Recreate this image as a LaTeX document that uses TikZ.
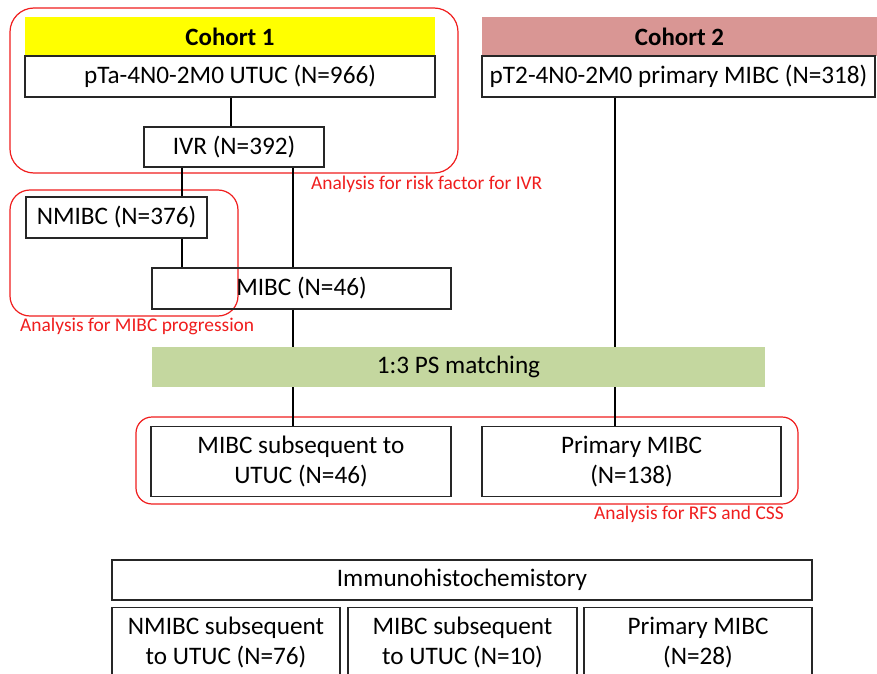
\documentclass[tikz,border=0pt]{standalone}
\usepackage{fontspec}
\setmainfont{Carlito}
\definecolor{cohA}{HTML}{FFFF00}
\definecolor{cohB}{HTML}{D99694}
\definecolor{psgreen}{HTML}{C4D79F}
\definecolor{anred}{HTML}{F01E1E}
\tikzset{
  box/.style={draw=black!85, line width=1.2bp, inner sep=0pt, align=center, font=\fontsize{25.3}{29.5}\selectfont},
  bar/.style={inner sep=0pt, align=center, font=\fontsize{25}{29}\selectfont\bfseries},
  conn/.style={draw=black, line width=2.2bp},
  redbox/.style={draw=anred, line width=1.2bp},
  redlabel/.style={text=anred, inner sep=0pt, font=\fontsize{19.5}{22}\selectfont}
}
\begin{document}
\begin{tikzpicture}[x=1bp,y=-1bp]
\useasboundingbox (0,0) rectangle (877,674);
\clip (0,0) rectangle (877,674);
\fill[white] (0,0) rectangle (877,674);
% red analysis frames
\draw[redbox, rounded corners=24bp] (10,8) rectangle (458,173);
\draw[redbox, rounded corners=20bp] (10,190) rectangle (238,316);
\draw[redbox, rounded corners=16bp] (136,417) rectangle (798,504);
% nodes
\node[bar, fill=cohA, minimum width=410bp, minimum height=39bp] (coh1) at (230,36.5) {Cohort 1};
\node[box, minimum width=410bp, minimum height=41bp] (pta) at (230,76.5) {pTa-4N0-2M0 UTUC (N=966)};
\node[box, minimum width=180bp, minimum height=40bp] (ivr) at (234,147) {IVR (N=392)};
\node[bar, fill=cohB, minimum width=395bp, minimum height=39bp] (coh2) at (679.5,36.5) {Cohort 2};
\node[box, minimum width=393bp, minimum height=41bp] (pt2) at (678.5,76.5) {pT2-4N0-2M0 primary MIBC (N=318)};
\node[box, minimum width=181bp, minimum height=41bp] (nmibc) at (116.5,217.5) {NMIBC (N=376)};
\node[box, minimum width=299bp, minimum height=41bp] (mibc) at (301.5,288.5) {MIBC (N=46)};
\node[inner sep=0pt, fill=psgreen, minimum width=613bp, minimum height=40bp, font=\fontsize{25.3}{29.5}\selectfont] (ps) at (458.5,367) {1:3 PS matching};
\node[box, minimum width=300bp, minimum height=70bp] (sub) at (301,461.5) {MIBC subsequent to\\UTUC (N=46)};
\node[box, minimum width=299bp, minimum height=70bp] (prim) at (631.5,461.5) {Primary MIBC\\(N=138)};
\node[box, minimum width=700bp, minimum height=40bp] (ihc) at (462,580) {Immunohistochemistory};
\node[box, minimum width=228bp, minimum height=70bp] (b1) at (226,642.5) {NMIBC subsequent\\to UTUC (N=76)};
\node[box, minimum width=229bp, minimum height=70bp] (b2) at (462.5,642.5) {MIBC subsequent\\to UTUC (N=10)};
\node[box, minimum width=228bp, minimum height=70bp] (b3) at (698,642.5) {Primary MIBC\\(N=28)};
% labels
\node[redlabel, anchor=west] (l1) at (311,184) {Analysis for risk factor for IVR};
\node[redlabel, anchor=west] (l2) at (20,326) {Analysis for MIBC progression};
\node[redlabel, anchor=east] (l3) at (784,514) {Analysis for RFS and CSS};
% connector columns
\coordinate (xa) at (182,0);
\coordinate (xb) at (293,0);
\coordinate (xc) at (615,0);
\coordinate (xd) at (231,0);
% connectors
\draw[conn] (pta.south -| xd) -- (ivr.north -| xd);
\draw[conn] (ivr.south -| xa) -- (nmibc.north -| xa);
\draw[conn] (nmibc.south -| xa) -- (mibc.north -| xa);
\draw[conn] (ivr.south -| xb) -- (mibc.north -| xb);
\draw[conn] (mibc.south -| xb) -- (ps.north -| xb);
\draw[conn] (ps.south -| xb) -- (sub.north -| xb);
\draw[conn] (pt2.south -| xc) -- (ps.north -| xc);
\draw[conn] (ps.south -| xc) -- (prim.north -| xc);
\end{tikzpicture}
\end{document}
